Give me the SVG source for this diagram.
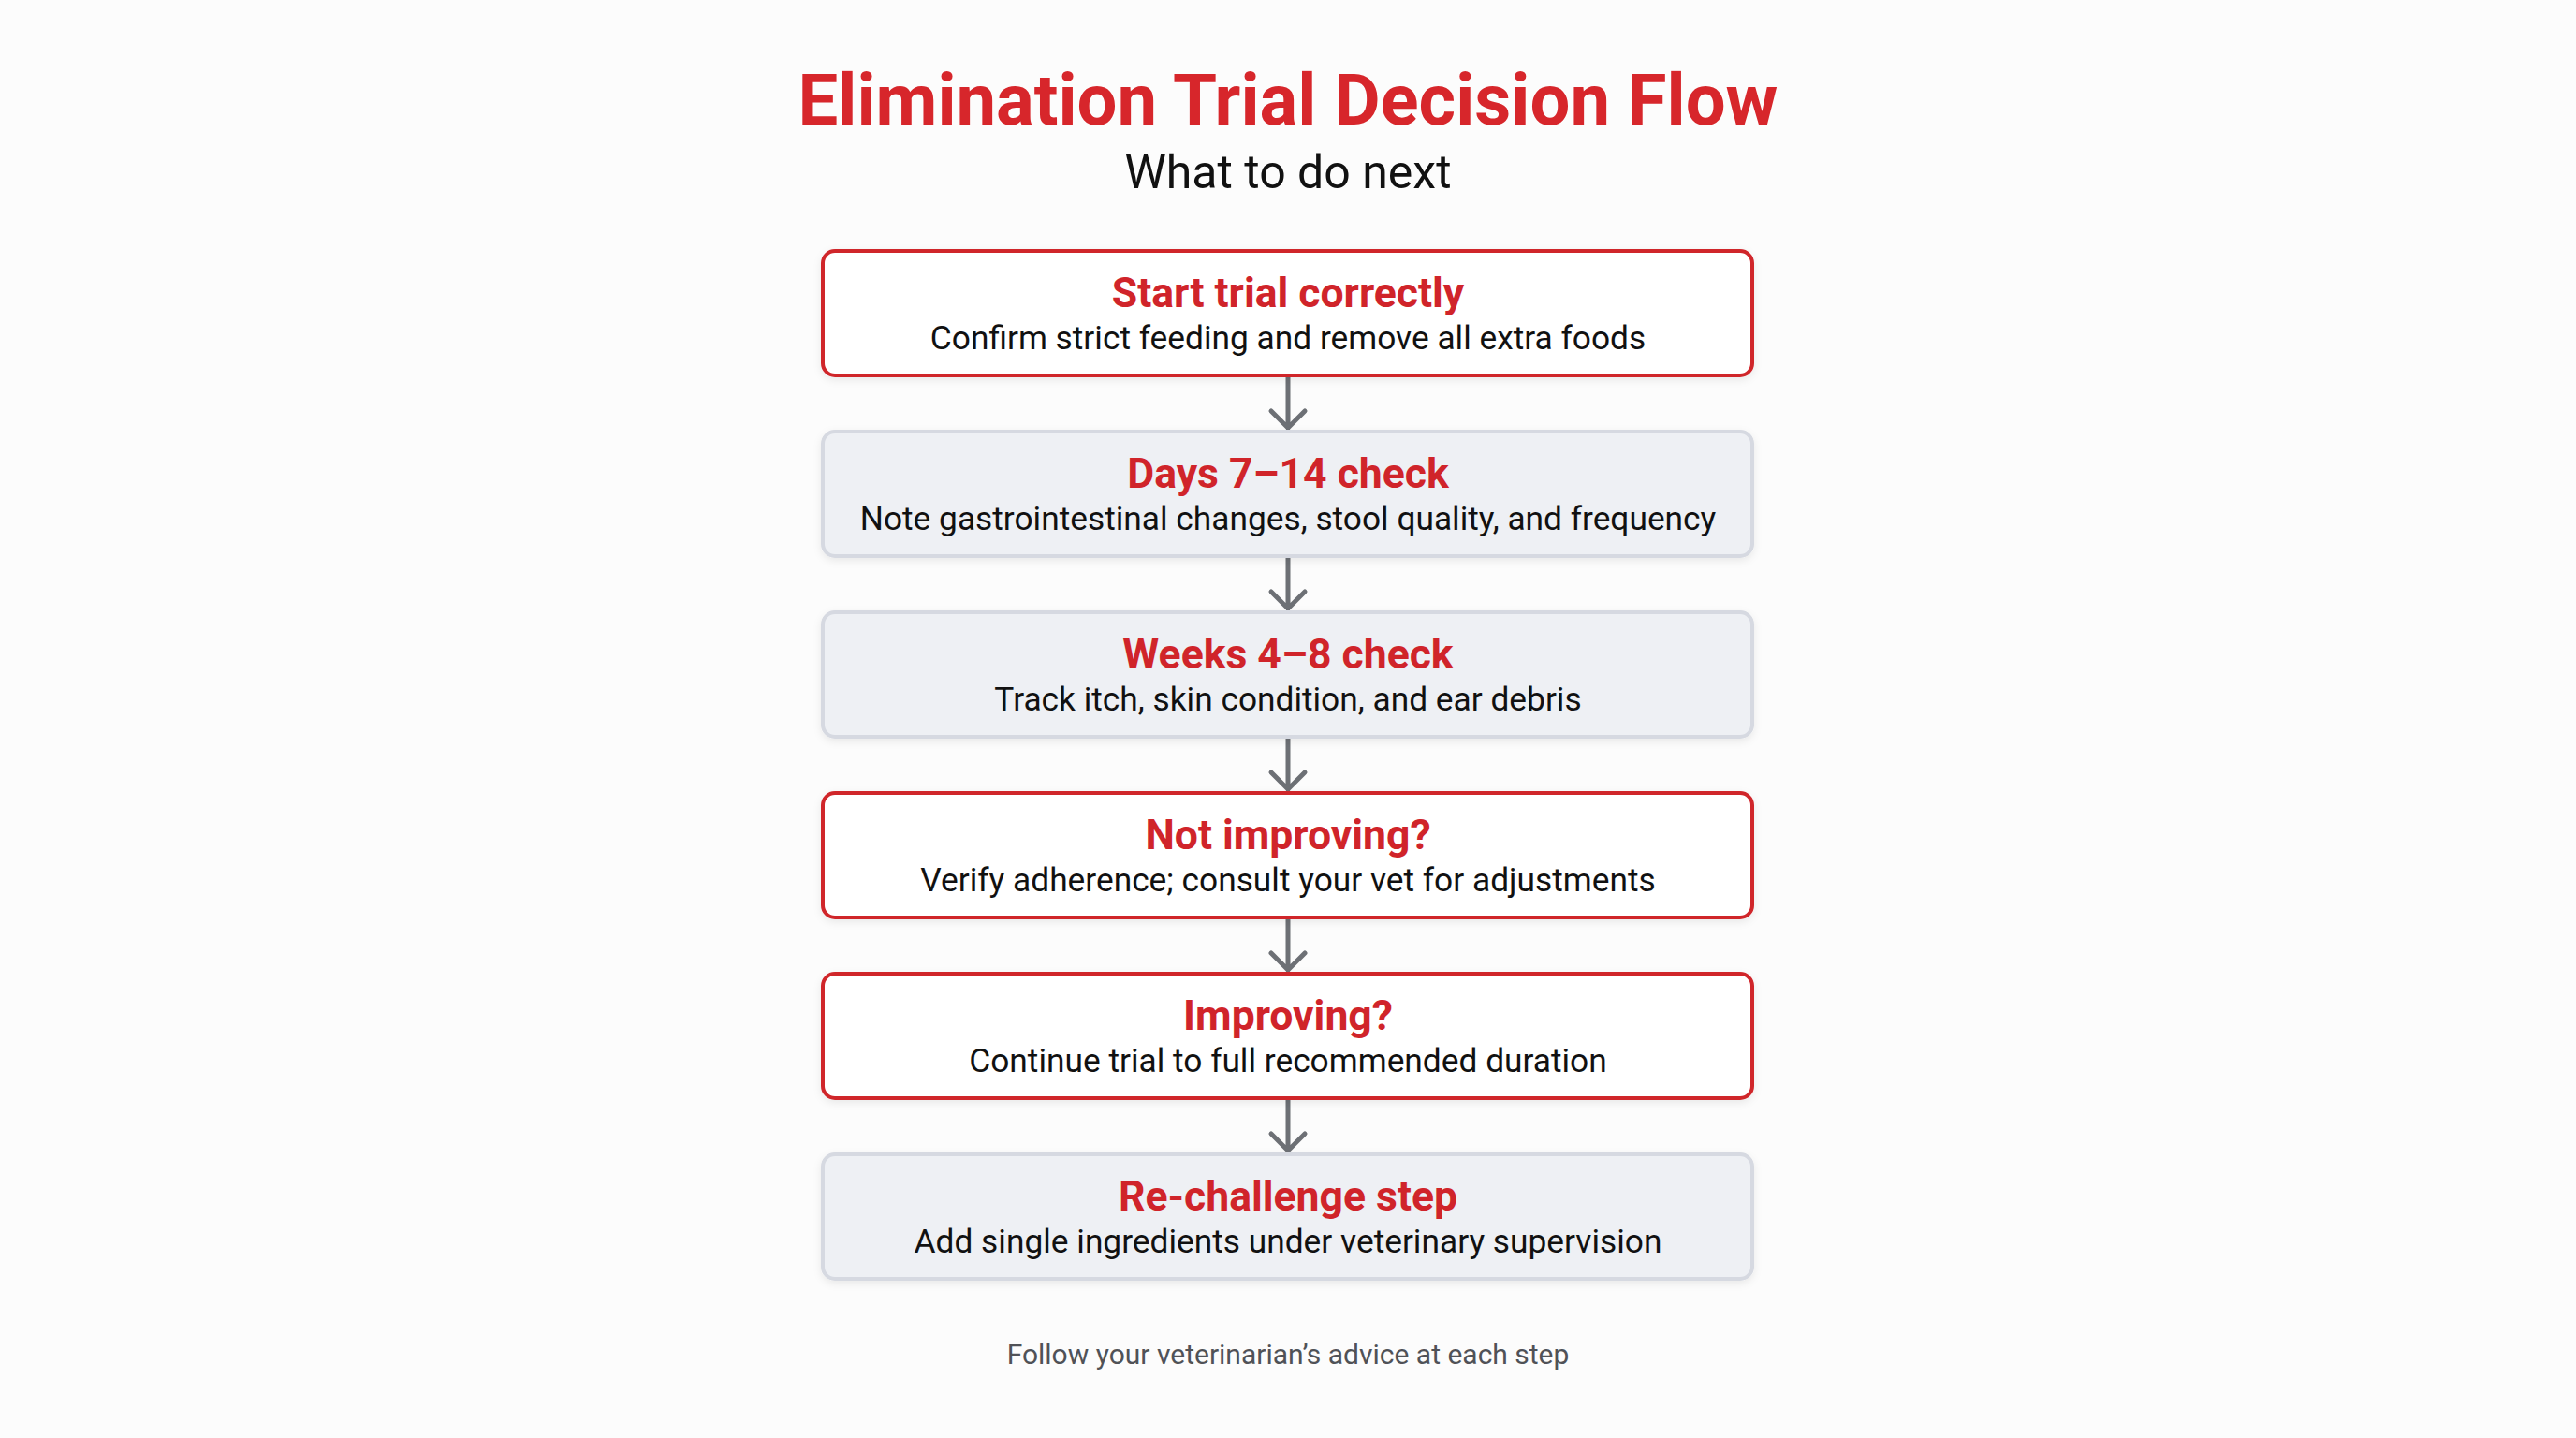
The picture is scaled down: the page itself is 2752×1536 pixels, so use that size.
<svg xmlns="http://www.w3.org/2000/svg" width="2752" height="1536" viewBox="0 0 2752 1536">
  <defs>
    <style>
      .title { font-family: Roboto, "Liberation Sans", sans-serif; font-weight: 700; font-size: 76px; fill: #d7262b; }
      .subtitle { font-family: Roboto, "Liberation Sans", sans-serif; font-weight: 400; font-size: 50px; fill: #111111; }
      .ntitle { font-family: Roboto, "Liberation Sans", sans-serif; font-weight: 700; font-size: 44.5px; fill: #d0242a; }
      .ndesc { font-family: Roboto, "Liberation Sans", sans-serif; font-weight: 400; font-size: 35.3px; fill: #111111; }
      .footer { font-family: Roboto, "Liberation Sans", sans-serif; font-weight: 400; font-size: 30px; fill: #505257; }
      .red { fill: #ffffff; stroke: #d0262c; stroke-width: 4; }
      .gray { fill: #eef0f4; stroke: #d6d9e1; stroke-width: 4; }
      .conn { fill: none; stroke: #6d7075; stroke-width: 5; stroke-linecap: round; stroke-linejoin: round; }
    </style>
    <filter id="sh" x="-5%" y="-20%" width="110%" height="150%">
      <feDropShadow dx="0" dy="3" stdDeviation="4" flood-color="#000000" flood-opacity="0.08"/>
    </filter>
  </defs>
  <rect width="2752" height="1536" fill="#fcfcfc"/>
  <text class="title" x="1376" y="133" text-anchor="middle">Elimination Trial Decision Flow</text>
  <text class="subtitle" x="1376" y="201" text-anchor="middle">What to do next</text>

  <g id="connectors">
    <path class="conn" d="M1376 402 V457 M1358 439 L1376 457 L1394 439"/>
    <path class="conn" d="M1376 595 V650 M1358 632 L1376 650 L1394 632"/>
    <path class="conn" d="M1376 788 V843 M1358 825 L1376 843 L1394 825"/>
    <path class="conn" d="M1376 981 V1036 M1358 1018 L1376 1036 L1394 1018"/>
    <path class="conn" d="M1376 1174 V1229 M1358 1211 L1376 1229 L1394 1211"/>
  </g>

  <g id="node1">
    <rect class="red" x="879" y="268" width="993" height="133" rx="13" filter="url(#sh)"/>
    <text class="ntitle" x="1376" y="328" text-anchor="middle">Start trial correctly</text>
    <text class="ndesc" x="1376" y="373" text-anchor="middle">Confirm strict feeding and remove all extra foods</text>
  </g>
  <g id="node2">
    <rect class="gray" x="879" y="461" width="993" height="133" rx="13" filter="url(#sh)"/>
    <text class="ntitle" x="1376" y="521" text-anchor="middle">Days 7–14 check</text>
    <text class="ndesc" x="1376" y="566" text-anchor="middle">Note gastrointestinal changes, stool quality, and frequency</text>
  </g>
  <g id="node3">
    <rect class="gray" x="879" y="654" width="993" height="133" rx="13" filter="url(#sh)"/>
    <text class="ntitle" x="1376" y="714" text-anchor="middle">Weeks 4–8 check</text>
    <text class="ndesc" x="1376" y="759" text-anchor="middle">Track itch, skin condition, and ear debris</text>
  </g>
  <g id="node4">
    <rect class="red" x="879" y="847" width="993" height="133" rx="13" filter="url(#sh)"/>
    <text class="ntitle" x="1376" y="907" text-anchor="middle">Not improving?</text>
    <text class="ndesc" x="1376" y="952" text-anchor="middle">Verify adherence; consult your vet for adjustments</text>
  </g>
  <g id="node5">
    <rect class="red" x="879" y="1040" width="993" height="133" rx="13" filter="url(#sh)"/>
    <text class="ntitle" x="1376" y="1100" text-anchor="middle">Improving?</text>
    <text class="ndesc" x="1376" y="1145" text-anchor="middle">Continue trial to full recommended duration</text>
  </g>
  <g id="node6">
    <rect class="gray" x="879" y="1233" width="993" height="133" rx="13" filter="url(#sh)"/>
    <text class="ntitle" x="1376" y="1293" text-anchor="middle">Re-challenge step</text>
    <text class="ndesc" x="1376" y="1338" text-anchor="middle">Add single ingredients under veterinary supervision</text>
  </g>

  <text class="footer" x="1376" y="1457" text-anchor="middle">Follow your veterinarian’s advice at each step</text>
</svg>
